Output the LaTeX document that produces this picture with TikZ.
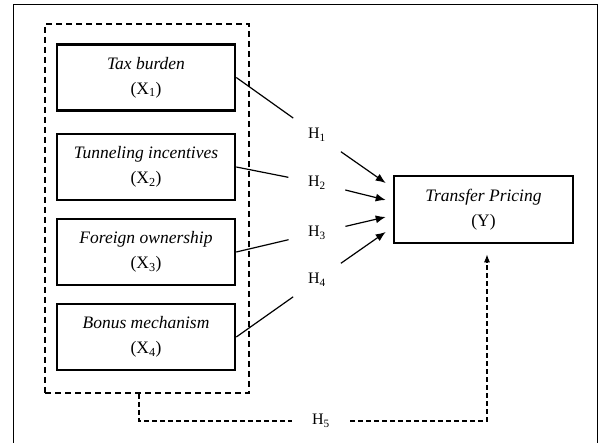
\documentclass[tikz,border=0pt]{standalone}
\usepackage{fontspec}
\setmainfont{Liberation Serif}
\usetikzlibrary{arrows.meta,positioning}

\tikzset{
  varbox/.style={draw, line width=2.6pt, minimum width=178pt, minimum height=66pt,
    inner sep=0pt, align=center, font=\fontsize{17.5}{25}\selectfont},
  grpbox/.style={draw, line width=2pt, dash pattern=on 6pt off 4pt,
    minimum width=204pt, minimum height=369pt, inner sep=0pt},
  hyp/.style={circle, minimum size=58pt, inner sep=0pt, font=\fontsize{16}{18}\selectfont},
  link/.style={line width=1.2pt},
  hyparrow/.style={link, -{Latex[length=10pt,width=8pt]}},
  modlink/.style={line width=1.1pt, dash pattern=on 5pt off 3pt}
}

\begin{document}
\begin{tikzpicture}[x=1pt,y=-1pt]
\useasboundingbox (0,0) rectangle (598,443);
% frame
\draw[line width=1pt] (13,443) -- (13,5) -- (597,5) -- (597,443);

% independent variables
\node[grpbox] (grp) at (147,208.5) {};
\node[varbox] (x1) at (146,77.5) {\textit{Tax burden}\\(X\textsubscript{1})};
\node[varbox] (x2) at (146,167) {\textit{Tunneling incentives}\\(X\textsubscript{2})};
\node[varbox] (x3) at (146,252) {\textit{Foreign ownership}\\(X\textsubscript{3})};
\node[varbox] (x4) at (146,337) {\textit{Bonus mechanism}\\(X\textsubscript{4})};

% dependent variable
\node[varbox, minimum width=179pt, minimum height=67pt] (y) at (483.5,209.5) {\textit{Transfer Pricing}\\(Y)};

% hypotheses
\node[hyp] (h1) at (317,135) {H\textsubscript{1}};
\node[hyp] (h2) at (317,183) {H\textsubscript{2}};
\node[hyp] (h3) at (317,233) {H\textsubscript{3}};
\node[hyp] (h4) at (317,280) {H\textsubscript{4}};
\node[hyp] (h5) at (321,421) {H\textsubscript{5}};

\coordinate (t1) at ([xshift=-7pt,yshift=26.5pt]y.west);
\coordinate (t2) at ([xshift=-7pt,yshift=9.5pt]y.west);
\coordinate (t3) at ([xshift=-7pt,yshift=-7.5pt]y.west);
\coordinate (t4) at ([xshift=-7pt,yshift=-22.5pt]y.west);

\draw[link] (x1.east) -- (h1);
\draw[link] (x2.east) -- (h2);
\draw[link] (x3.east) -- (h3);
\draw[link] (x4.east) -- (h4);
\draw[hyparrow] (h1) -- (t1);
\draw[hyparrow] (h2) -- (t2);
\draw[hyparrow] (h3) -- (t3);
\draw[hyparrow] (h4) -- (t4);

% simultaneous effect
\coordinate (g5) at ([xshift=-8pt]grp.south);
\coordinate (y5) at ([xshift=3.5pt]y.south);
\draw[modlink] (g5) |- (h5);
\draw[modlink, -{Latex[length=8pt,width=6pt]}, shorten >=10pt] (h5) -| (y5);
\end{tikzpicture}
\end{document}
